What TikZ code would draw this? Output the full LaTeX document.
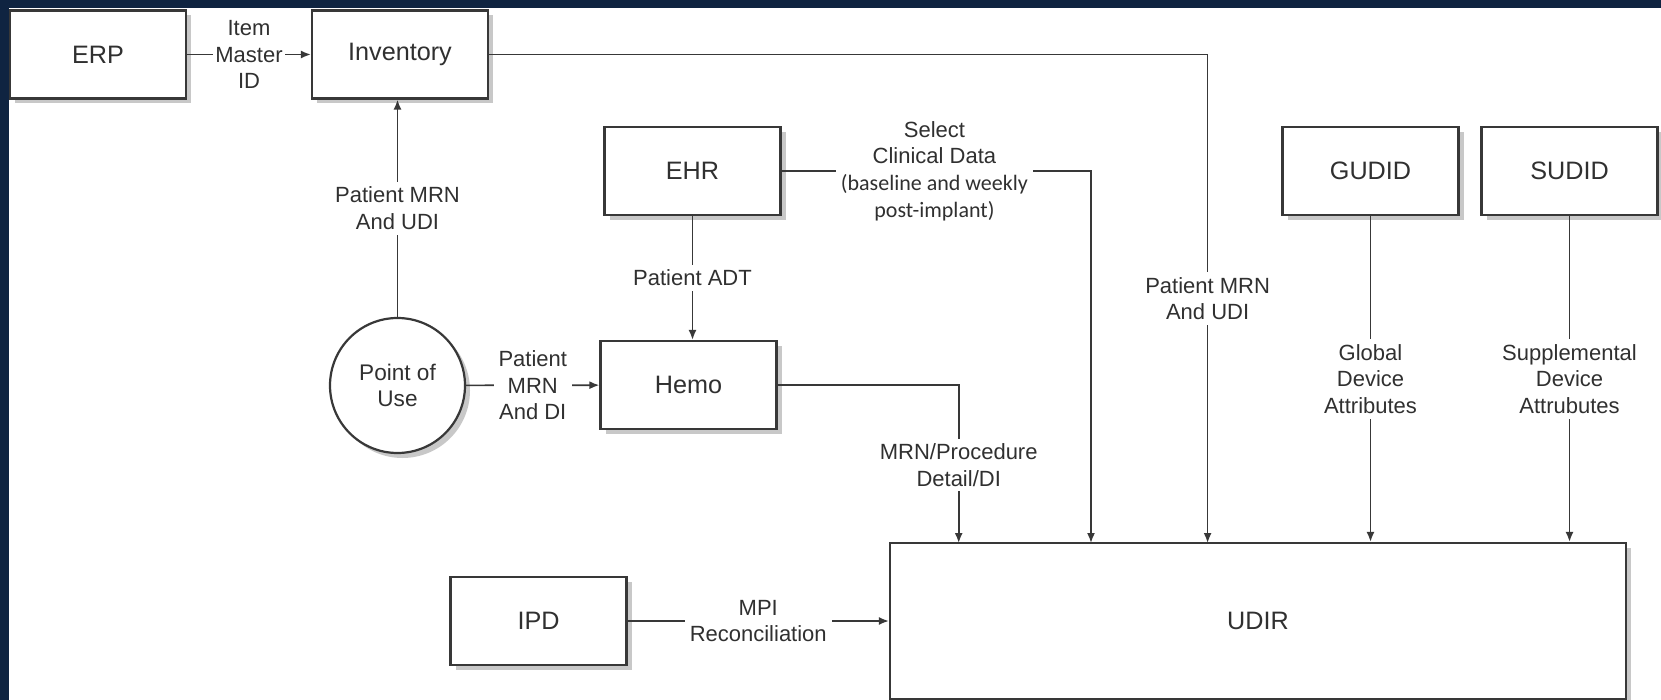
\documentclass[tikz,border=0pt]{standalone}
\usepackage{fontspec}
\setmainfont{Liberation Sans}
\newfontfamily\calfont{Carlito}
\usetikzlibrary{arrows.meta,shadows}

\definecolor{rahmenblau}{HTML}{0F2441}
\definecolor{linienfarbe}{HTML}{383838}
\definecolor{schrift}{HTML}{303030}

\begin{document}
\begin{tikzpicture}[x=0.5pt, y=-0.5pt,
    schatten/.style={drop shadow={shadow xshift=2.5pt, shadow yshift=-2.5pt, fill=black!30, opacity=0.7}},
    kasten/.style={draw=linienfarbe, line width=1.1pt, fill=white, schatten,
        minimum width=88pt, minimum height=44pt, text=schrift,
        font=\fontsize{12.6}{15}\selectfont},
    kreis/.style={circle, draw=linienfarbe, line width=1.1pt, fill=white, schatten,
        minimum size=67.5pt, inner sep=0pt, align=center, text=schrift,
        font=\fontsize{11.3}{12.8}\selectfont},
    beschriftung/.style={fill=white, text=schrift, align=center, inner sep=2.5pt,
        font=\fontsize{11}{13.3}\selectfont},
    fluss/.style={draw=linienfarbe, line width=0.85pt, -{Latex[length=5pt,width=4pt]}}]
    % Rahmen und Hintergrund
    \useasboundingbox (0,0) rectangle (1661,700);
    \fill[rahmenblau] (0,0) rectangle (1661,700);
    \fill[white] (9,8) rectangle (1661,700);
    % Systeme
    \node[kasten] (erp) at (98,54.5) {ERP};
    \node[kasten] (inv) at (400,54.5) {Inventory};
    \node[kasten] (ehr) at (692.5,171) {EHR};
    \node[kasten] (gudid) at (1370.5,171) {GUDID};
    \node[kasten] (sudid) at (1569.5,171) {SUDID};
    \node[kreis] (pou) at (397.5,385.5) {Point of\\Use};
    \node[kasten] (hemo) at (688.5,385) {Hemo};
    \node[kasten] (ipd) at (538.5,621) {IPD};
    \node[kasten, minimum width=368pt, minimum height=78pt] (udir) at (1258,621) {UDIR};
    % Eingänge am UDIR
    \coordinate (einHemo) at (958.7,543);
    \coordinate (einEhr) at (1091,543);
    \coordinate (einInv) at (1207.6,543);
    % Datenflüsse
    \draw[fluss] (erp) -- node[beschriftung, inner sep=1pt] {Item\\Master\\ID} (inv);
    \draw[fluss] (pou.north) -- node[beschriftung] {Patient MRN\\And UDI} (pou.north |- inv.south);
    \draw[fluss] (pou) -- node[beschriftung] {Patient\\MRN\\And DI} (hemo);
    \draw[fluss] (ehr.south) -- node[beschriftung] {Patient ADT} (ehr.south |- hemo.north);
    \draw[fluss] (inv.east) -| node[beschriftung, pos=0.75] {Patient MRN\\And UDI} (einInv);
    \draw[fluss] (ehr.east) -| node[beschriftung, pos=0.247] {Select\\Clinical Data\\{\calfont(baseline and weekly}\\{\calfont post-implant)}} (einEhr);
    \draw[fluss] (hemo.east) -| node[beschriftung, pos=0.753] {MRN/Procedure\\Detail/DI} (einHemo);
    \draw[fluss] (gudid.south) -- node[beschriftung] {Global\\Device\\Attributes} (gudid.south |- udir.north);
    \draw[fluss] (sudid.south) -- node[beschriftung] {Supplemental\\Device\\Attrubutes} (sudid.south |- udir.north);
    \draw[fluss] (ipd.east) -- node[beschriftung] {MPI\\Reconciliation} (ipd.east -| udir.west);
\end{tikzpicture}
\end{document}
